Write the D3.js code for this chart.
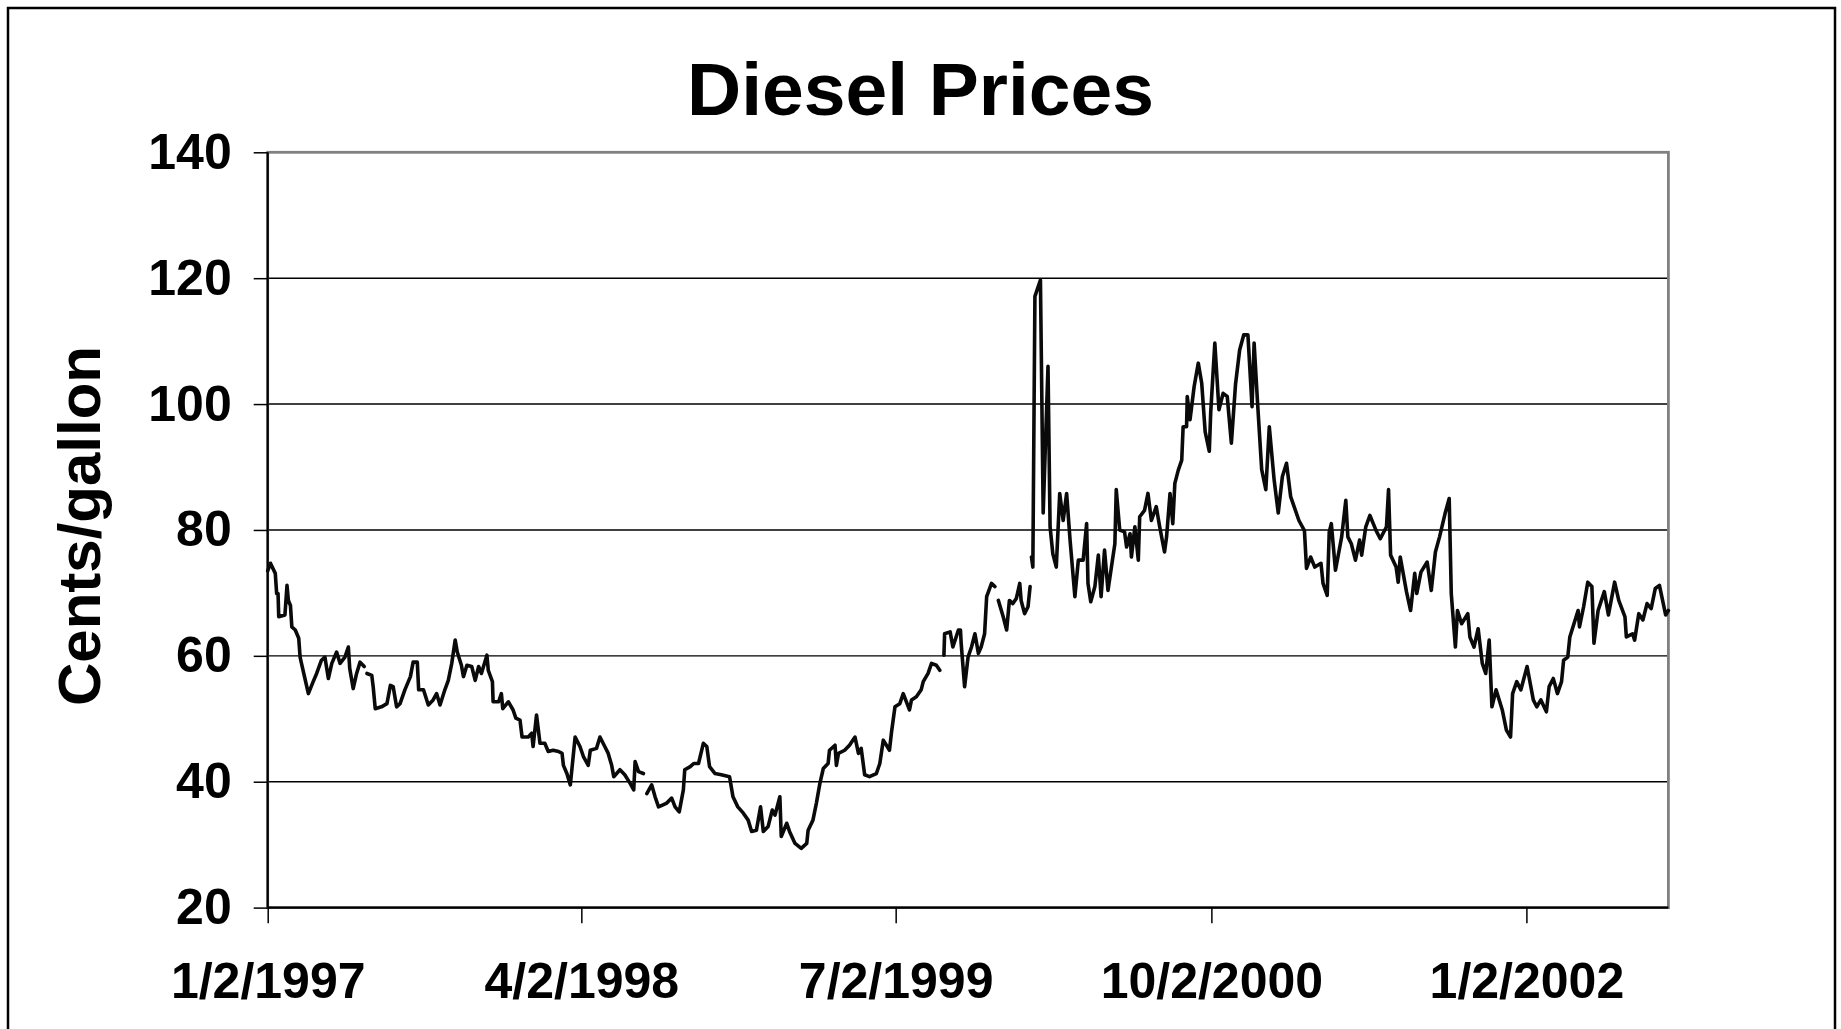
<!DOCTYPE html>
<html>
<head>
<meta charset="utf-8">
<script src="https://cdn.jsdelivr.net/npm/d3@7"></script>
<style>
  body { margin: 0; background: #fff; }
  svg { display: block; font-family: "Liberation Sans", Arial, sans-serif; font-weight: bold; }
</style>
</head>
<body>
<svg></svg>
<script>
/* diesel prices (null = gap in the series) */
const dates = [
  "1/2/1997","1/6/1997","1/13/1997","1/15/1997","1/17/1997","1/18/1997","1/27/1997","1/30/1997",
  "2/1/1997","2/4/1997","2/6/1997","2/11/1997","2/16/1997","2/18/1997","2/20/1997","2/25/1997",
  "3/2/1997","3/9/1997","3/14/1997","3/21/1997","3/26/1997","3/31/1997","4/5/1997","4/12/1997",
  "4/17/1997","4/24/1997","4/29/1997","5/1/1997","5/6/1997","5/11/1997","5/16/1997","5/22/1997",
  "5/24/1997","5/26/1997","6/2/1997","6/4/1997","6/7/1997","6/16/1997","6/24/1997","6/29/1997",
  "7/3/1997","7/8/1997","7/13/1997","7/20/1997","7/28/1997","8/1/1997","8/7/1997","8/9/1997",
  "8/16/1997","8/23/1997","8/30/1997","9/4/1997","9/9/1997","9/16/1997","9/21/1997","9/26/1997",
  "10/1/1997","10/4/1997","10/10/1997","10/13/1997","10/18/1997","10/25/1997","10/30/1997","11/4/1997",
  "11/8/1997","11/16/1997","11/18/1997","11/24/1997","11/25/1997","12/3/1997","12/7/1997","12/9/1997",
  "12/17/1997","12/24/1997","12/28/1997",
  "1/3/1998","1/6/1998","1/15/1998","1/20/1998","1/22/1998","1/27/1998","2/1/1998","2/8/1998",
  "2/13/1998","2/20/1998","2/28/1998","3/5/1998","3/7/1998","3/12/1998","3/17/1998","3/24/1998",
  "3/31/1998","4/5/1998","4/12/1998","4/15/1998","4/24/1998","4/29/1998","5/6/1998","5/11/1998",
  "5/16/1998","5/19/1998","5/28/1998","6/4/1998","6/12/1998","6/17/1998","6/19/1998","6/24/1998",
  "7/1/1998","7/3/1998","7/6/1998","7/13/1998","7/18/1998","7/23/1998","8/4/1998","8/11/1998",
  "8/16/1998","8/22/1998","8/28/1998","8/30/1998","9/7/1998","9/12/1998","9/19/1998","9/26/1998",
  "10/1/1998","10/5/1998","10/13/1998","10/22/1998","11/3/1998","11/8/1998","11/15/1998","11/23/1998",
  "11/30/1998","12/5/1998","12/12/1998","12/18/1998","12/22/1998","12/29/1998",
  "1/4/1999","1/8/1999","1/15/1999","1/17/1999","1/25/1999","1/29/1999","2/6/1999","2/15/1999",
  "2/23/1999","2/25/1999","3/4/1999","3/9/1999","3/14/1999","3/19/1999","3/26/1999","3/28/1999",
  "4/5/1999","4/7/1999","4/10/1999","4/19/1999","4/26/1999","5/4/1999","5/9/1999","5/13/1999",
  "5/18/1999","5/25/1999","6/4/1999","6/9/1999","6/14/1999","6/23/1999","6/26/1999","7/1/1999",
  "7/8/1999","7/13/1999","7/22/1999","7/25/1999","8/1/1999","8/8/1999","8/11/1999","8/18/1999",
  "8/23/1999","8/30/1999","9/4/1999","9/7/1999","9/10/1999","9/11/1999","9/19/1999","9/23/1999",
  "10/1/1999","10/4/1999","10/5/1999","10/10/1999","10/15/1999","10/20/1999","10/25/1999","10/30/1999",
  "11/3/1999","11/8/1999","11/11/1999","11/18/1999","11/23/1999","11/25/1999","11/28/1999","12/5/1999",
  "12/10/1999","12/14/1999","12/19/1999","12/24/1999","12/29/1999","12/31/1999",
  "1/5/2000","1/10/2000","1/13/2000","1/14/2000","1/15/2000","1/17/2000","1/20/2000","1/28/2000",
  "2/1/2000","2/8/2000","2/11/2000","2/15/2000","2/20/2000","2/25/2000","3/1/2000","3/6/2000",
  "3/11/2000","3/18/2000","3/23/2000","3/30/2000","4/4/2000","4/6/2000","4/10/2000","4/16/2000",
  "4/21/2000","4/25/2000","4/30/2000","5/5/2000","5/10/2000","5/15/2000","5/17/2000","5/22/2000",
  "5/29/2000","6/1/2000","6/6/2000","6/8/2000","6/13/2000","6/18/2000","6/20/2000","6/27/2000",
  "7/2/2000","7/7/2000","7/14/2000","7/19/2000","7/26/2000","7/29/2000","8/3/2000","8/7/2000",
  "8/10/2000","8/15/2000","8/20/2000","8/22/2000","8/27/2000","8/28/2000","9/1/2000","9/7/2000",
  "9/13/2000","9/18/2000","9/23/2000","9/29/2000","10/1/2000","10/7/2000","10/13/2000","10/19/2000",
  "10/25/2000","10/31/2000","11/6/2000","11/12/2000","11/18/2000","11/24/2000","11/30/2000","12/3/2000",
  "12/8/2000","12/14/2000","12/20/2000","12/25/2000",
  "1/1/2001","1/7/2001","1/13/2001","1/19/2001","1/25/2001","2/6/2001","2/14/2001","2/17/2001",
  "2/23/2001","3/1/2001","3/10/2001","3/13/2001","3/19/2001","3/22/2001","3/25/2001","3/31/2001",
  "4/9/2001","4/15/2001","4/18/2001","4/23/2001","4/29/2001","5/5/2001","5/8/2001","5/14/2001",
  "5/20/2001","5/29/2001","6/4/2001","6/13/2001","6/16/2001","6/19/2001","6/27/2001","6/30/2001",
  "7/3/2001","7/12/2001","7/18/2001","7/24/2001","7/27/2001","8/2/2001","8/11/2001","8/17/2001",
  "8/23/2001","8/29/2001","9/6/2001","9/12/2001","9/15/2001","9/21/2001","9/24/2001","9/30/2001",
  "10/9/2001","10/12/2001","10/18/2001","10/24/2001","10/30/2001","11/4/2001","11/9/2001","11/13/2001",
  "11/19/2001","11/28/2001","12/4/2001","12/10/2001","12/13/2001","12/19/2001","12/25/2001",
  "1/3/2002","1/12/2002","1/17/2002","1/23/2002","1/31/2002","2/4/2002","2/10/2002","2/16/2002",
  "2/22/2002","2/25/2002","3/3/2002","3/6/2002","3/12/2002","3/18/2002","3/20/2002","3/26/2002",
  "4/1/2002","4/7/2002","4/10/2002","4/16/2002","4/25/2002","5/1/2002","5/10/2002","5/16/2002",
  "5/25/2002","5/27/2002","6/5/2002","6/8/2002","6/14/2002","6/20/2002","6/26/2002","7/2/2002",
  "7/8/2002","7/14/2002","7/23/2002","7/27/2002"
];
const prices = [
  73.5,74.7,73.1,69.9,69.9,66.2,66.5,71.2,
  68.8,68,64.6,64.1,62.8,59.8,58.8,56.4,
  54,55.9,57.2,59.3,59.8,56.4,58.8,60.6,
  58.8,59.8,61.4,58,54.8,57.2,59,58.3,
  null,57.2,56.9,55.1,51.6,51.9,52.4,55.3,
  55.1,51.9,52.4,54.6,56.7,59,59,54.6,
  54.6,52.2,53,54,52.2,54.6,56.1,58.8,
  62.5,60.6,58.5,56.7,58.5,58.3,56.1,58.3,
  57.2,60.1,57.7,55.9,52.7,52.7,54,51.6,
  52.7,51.4,50.1,
  49.8,47.1,47.1,47.7,45.6,50.6,46.1,46.1,
  44.8,45,44.8,44.5,42.6,41.3,39.5,47.1,
  45.6,44,42.6,45,45.3,47.1,45.6,44.5,
  42.6,40.8,41.9,41.1,39.7,38.7,43.2,41.6,
  41.3,null,38.1,39.5,37.6,36,36.6,37.4,
  36,35.2,38.7,41.9,42.4,42.9,42.9,46.1,
  45.6,42.4,41.3,41.1,40.8,37.6,36,35,
  33.9,32.1,32.3,36,32.1,32.9,
  35.5,34.7,37.6,31.3,33.4,32.1,30.2,29.4,
  30.2,32.3,33.9,36.6,39.7,42.1,42.9,45,
  45.8,42.6,44.5,45,45.8,47.1,44.5,45.3,
  41.1,40.8,41.3,42.9,46.6,45,47.9,51.9,
  52.4,54,51.4,53,53.5,54.6,55.9,57.2,
  58.8,58.5,57.7,null,60.1,63.5,63.8,61.4,
  64.1,64.1,62,55.1,59.8,61.4,63.5,60.4,
  61.4,63.5,69.4,71.5,71,null,68.8,66.2,
  64.1,68.8,68.3,69.1,71.5,68.8,
  66.7,67.8,71,null,75.7,74.1,117.1,119.7,
  82.7,106,80.5,76.2,74.1,85.8,81.5,85.8,
  78.4,69.4,75.2,75.2,81,71.5,68.6,71,
  76,69.4,76.8,70.4,74.1,77.8,86.4,80,
  79.7,77.3,79.4,75.7,80.5,75.2,82.1,83.1,
  85.8,81.5,83.7,80.5,76.5,78.9,85.8,81,
  87.4,89.5,91.1,96.4,96.4,101.2,97.5,102.8,
  106.5,103.3,95.6,92.5,98.6,109.7,99.1,101.7,
  101.2,93.8,103.1,108.6,111,111,99.6,109.7,
  100.2,89.6,86.4,96.4,
  88,82.7,88.5,90.6,85.3,81.5,79.9,73.9,
  75.7,74.1,74.7,71.5,69.6,79.7,81,73.6,
  78.9,84.7,78.9,77.8,75.2,78.4,76,80.5,
  82.3,79.9,78.6,80.5,86.4,76,74.1,71.7,
  75.7,70.2,67.2,73.1,69.9,73.3,74.9,70.4,
  76.5,78.9,82.6,85,69.9,61.4,67.2,65.1,
  66.7,63,61.4,64.3,58.8,57.2,62.5,51.9,
  54.6,51.4,48.2,47.1,54,55.9,54.6,
  58.3,53,51.9,53,51.1,55.1,56.4,54,
  55.9,59.3,59.8,63,65.1,67.2,64.6,67.8,
  71.7,71,62,67.2,70.2,66.5,71.7,68.8,
  66.2,63,63.5,62.5,66.7,65.7,68.3,67.5,
  70.7,71.2,66.5,67.2
];
const yTicks = [20, 40, 60, 80, 100, 120, 140];
const xTickLabels = ["1/2/1997", "4/2/1998", "7/2/1999", "10/2/2000", "1/2/2002"];

const width = 1841, height = 1029;
const margin = { top: 152.3, right: 172.6, bottom: 121.4, left: 267.7 };
const innerW = width - margin.left - margin.right,
      innerH = height - margin.top - margin.bottom;

const parseDate = d3.timeParse("%m/%d/%Y");
const data = dates.map((d, i) => ({ date: parseDate(d), price: prices[i] }));

const svg = d3.select("svg")
    .attr("width", width)
    .attr("height", height);

// outer chart frame (bottom edge runs off the picture)
svg.append("rect")
    .attr("x", 8).attr("y", 8)
    .attr("width", 1827).attr("height", 1060)
    .attr("fill", "none")
    .attr("stroke", "#000")
    .attr("stroke-width", 2.5);

svg.append("text")
    .attr("x", 920.5)
    .attr("y", 115)
    .attr("text-anchor", "middle")
    .attr("font-size", 75)
    .text("Diesel Prices");

svg.append("text")
    .attr("transform", "translate(100, 526) rotate(-90)")
    .attr("text-anchor", "middle")
    .attr("font-size", 60)
    .text("Cents/gallon");

const g = svg.append("g")
    .attr("transform", `translate(${margin.left},${margin.top})`);

const x = d3.scaleTime()
    .domain(d3.extent(data, d => d.date))
    .range([0, innerW]);

const y = d3.scaleLinear()
    .domain([20, 140])
    .range([innerH, 0]);

// gridlines
g.append("g")
    .selectAll("line")
    .data(yTicks.filter(v => v > 20 && v < 140))
    .enter()
    .append("line")
    .attr("x1", 0).attr("x2", innerW)
    .attr("y1", d => y(d)).attr("y2", d => y(d))
    .attr("stroke", "#000")
    .attr("stroke-width", 1.4);

// plot area border
g.append("rect")
    .attr("width", innerW)
    .attr("height", innerH)
    .attr("fill", "none")
    .attr("stroke", "#808080")
    .attr("stroke-width", 2.8);

// --- axes ---
const yAxis = g.append("g")
    .call(d3.axisLeft(y).tickValues(yTicks).tickSize(14).tickPadding(22));

const xAxis = g.append("g")
    .attr("transform", `translate(0, ${innerH})`)
    .call(d3.axisBottom(x)
        .tickValues(xTickLabels.map(parseDate))
        .tickFormat(d3.timeFormat("%-m/%-d/%Y"))
        .tickSize(15.6)
        .tickPadding(39.5));

[yAxis, xAxis].forEach(ax => {
    ax.select(".domain").remove();
    ax.selectAll(".tick line").attr("stroke", "#000").attr("stroke-width", 1.5);
    ax.selectAll(".tick text")
        .attr("fill", "#000")
        .attr("font-size", 50)
        .attr("font-family", "'Liberation Sans', Arial, sans-serif")
        .attr("font-weight", "bold");
});

g.append("line")
    .attr("x1", 0).attr("x2", 0)
    .attr("y1", 0).attr("y2", innerH)
    .attr("stroke", "#000").attr("stroke-width", 2.2);

g.append("line")
    .attr("x1", 0).attr("x2", innerW)
    .attr("y1", innerH).attr("y2", innerH)
    .attr("stroke", "#000").attr("stroke-width", 2.4);

// price line
const line = d3.line()
    .defined(d => d.price != null)
    .x(d => x(d.date))
    .y(d => y(d.price));

g.append("path")
    .datum(data)
    .attr("fill", "none")
    .attr("stroke", "#0a0a0a")
    .attr("stroke-width", 3.6)
    .attr("stroke-linejoin", "round")
    .attr("stroke-linecap", "round")
    .attr("d", line);
</script>
</body>
</html>
